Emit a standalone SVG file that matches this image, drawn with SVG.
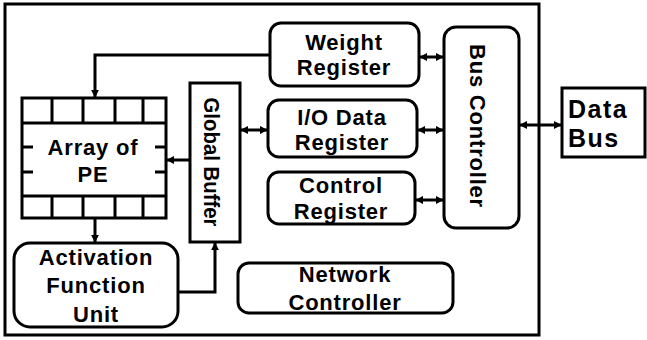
<svg xmlns="http://www.w3.org/2000/svg" width="647" height="340" viewBox="0 0 647 340">
<defs>
<marker id="ah" viewBox="0 0 10 10" refX="9" refY="5" markerWidth="8" markerHeight="8" markerUnits="userSpaceOnUse" orient="auto-start-reverse">
<path d="M0,0 L10,5 L0,10 z" fill="#000"/>
</marker>
<style>
.b{fill:#fff;stroke:#000;stroke-width:3}
.t{font-family:"Liberation Sans",Arial,sans-serif;font-weight:700;font-size:22px;letter-spacing:0.8px;fill:#000;text-anchor:middle}
.c{fill:none;stroke:#000;stroke-width:3}
</style>
</defs>
<rect x="0" y="0" width="647" height="340" fill="#fff"/>
<rect x="5" y="4" width="534" height="331" fill="none" stroke="#000" stroke-width="3"/>
<g id="weight-register">
<rect class="b" x="270" y="23" width="149" height="63" rx="11"/>
<text class="t" x="344" y="50">Weight</text>
<text class="t" x="344" y="75">Register</text>
</g>
<g id="io-data-register">
<rect class="b" x="268" y="100" width="149" height="57" rx="11"/>
<text class="t" x="342" y="125">I/O Data</text>
<text class="t" x="342" y="150">Register</text>
</g>
<g id="control-register">
<rect class="b" x="268" y="172" width="147" height="52" rx="11"/>
<text class="t" x="341" y="193">Control</text>
<text class="t" x="341" y="219">Register</text>
</g>
<g id="bus-controller">
<rect class="b" x="444" y="27" width="75" height="201" rx="12"/>
<text class="t" transform="translate(470,126) rotate(90)" x="0" y="0">Bus Controller</text>
</g>
<g id="global-buffer">
<rect class="b" x="190" y="83" width="50" height="159"/>
<text class="t" transform="translate(204,162) rotate(90)" x="0" y="0" style="letter-spacing:0" textLength="129" lengthAdjust="spacingAndGlyphs">Global Buffer</text>
</g>
<g id="array-of-pe">
<rect class="b" x="22" y="98" width="144" height="120"/>
<path class="c" d="M22,123 H166 M22,196 H166 M52,98 V123 M83,98 V123 M115,98 V123 M143,98 V123 M52,196 V218 M83,196 V218 M115,196 V218 M143,196 V218 M22,147 H33 M155,147 H166 M22,172 H33 M155,172 H166"/>
<text class="t" x="93" y="155">Array of</text>
<text class="t" x="93" y="182">PE</text>
</g>
<g id="activation-function-unit">
<rect class="b" x="14" y="243" width="164" height="84" rx="16"/>
<text class="t" x="96" y="265">Activation</text>
<text class="t" x="96" y="293">Function</text>
<text class="t" x="96" y="322">Unit</text>
</g>
<g id="network-controller">
<rect class="b" x="238" y="263" width="215" height="50" rx="11"/>
<text class="t" x="345" y="282">Network</text>
<text class="t" x="345" y="310">Controller</text>
</g>
<g id="data-bus">
<rect class="b" x="562" y="88" width="83" height="69"/>
<text class="t" style="text-anchor:start;font-size:25px;letter-spacing:1.5px" x="568" y="118">Data</text>
<text class="t" style="text-anchor:start;font-size:25px;letter-spacing:1.5px" x="568" y="147">Bus</text>
</g>
<g id="connectors">
<path class="c" d="M270,55 H95 V97" marker-end="url(#ah)"/>
<path class="c" d="M190,160 H167" marker-end="url(#ah)"/>
<path class="c" d="M241,130 H267" marker-start="url(#ah)" marker-end="url(#ah)"/>
<path class="c" d="M95,218 V242" marker-end="url(#ah)"/>
<path class="c" d="M178,292 H215 V243" marker-end="url(#ah)"/>
<path class="c" d="M420,57 H443" marker-start="url(#ah)" marker-end="url(#ah)"/>
<path class="c" d="M418,130 H443" marker-start="url(#ah)" marker-end="url(#ah)"/>
<path class="c" d="M416,200 H443" marker-start="url(#ah)" marker-end="url(#ah)"/>
<path class="c" d="M520,125 H561" marker-start="url(#ah)" marker-end="url(#ah)"/>
</g>
</svg>
